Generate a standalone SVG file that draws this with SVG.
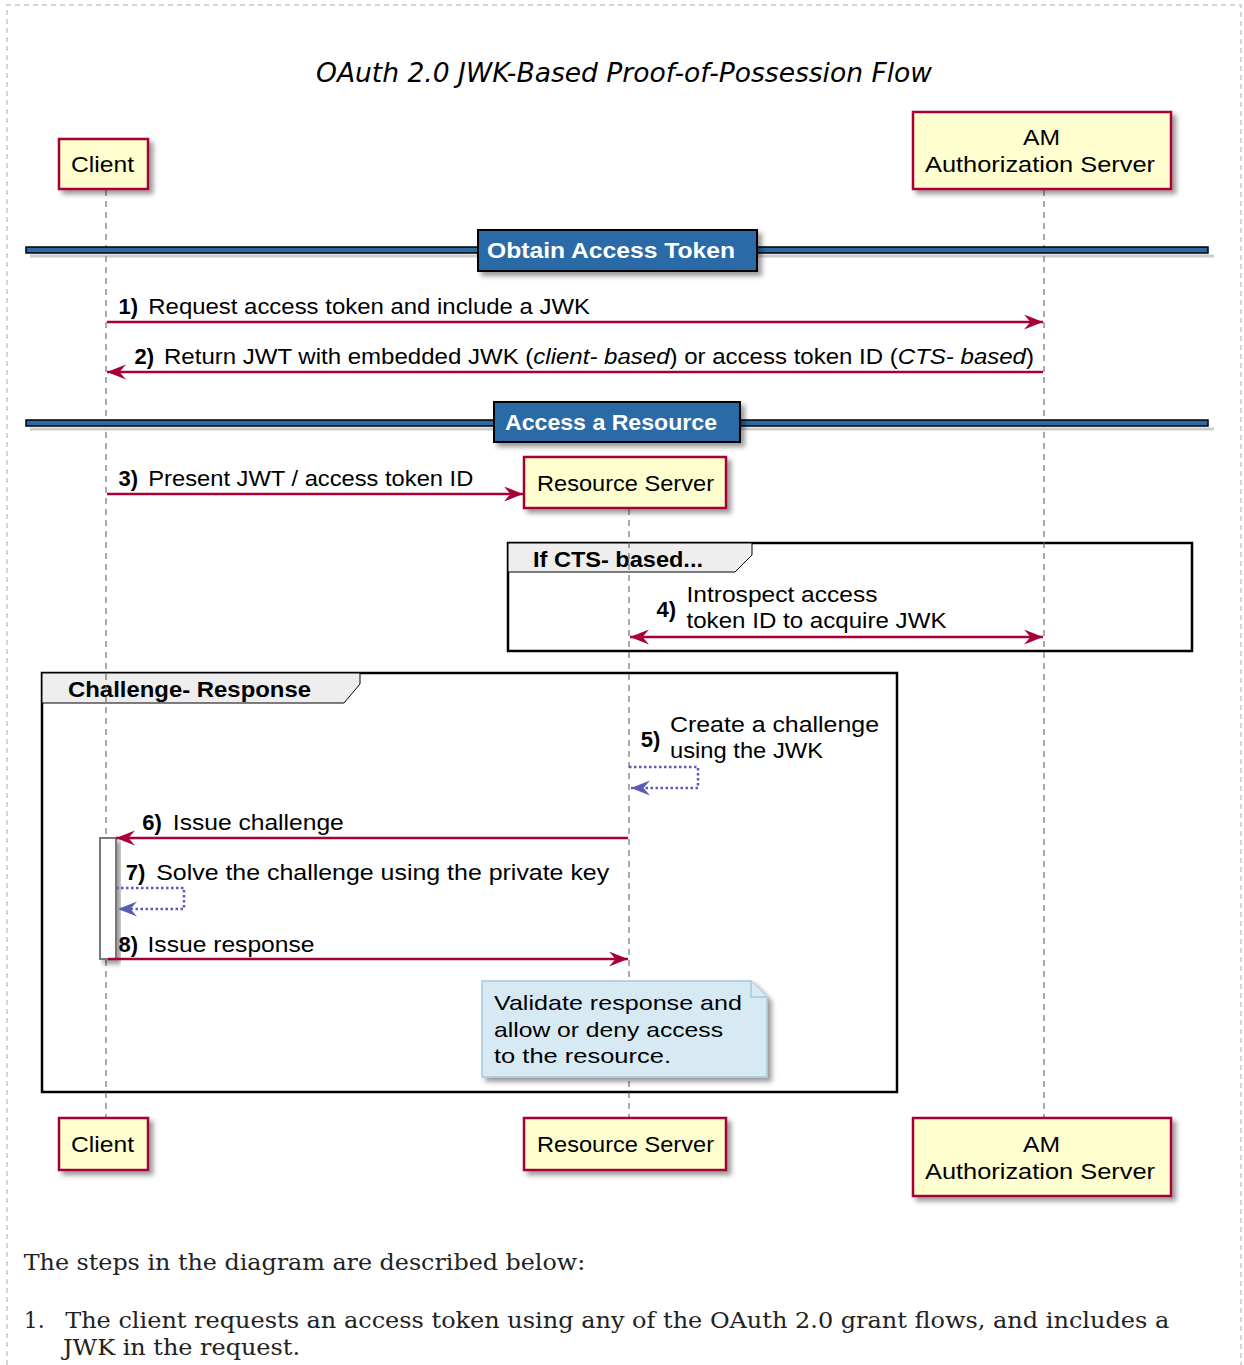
<svg xmlns="http://www.w3.org/2000/svg" width="1244" height="1365" viewBox="0 0 1244 1365">
<style>
.bg{fill:#ffffff}
.border{fill:none;stroke:#c8c8c8;stroke-width:1.5;stroke-dasharray:5,4}
.part{fill:#FEFECE;stroke:#A80036;stroke-width:2.5}
.ptxt{font-family:"Liberation Sans",Arial,sans-serif;font-size:22px;fill:#000}
.life{stroke:#555;stroke-width:1;stroke-dasharray:6,5;fill:none}
.msg{stroke:#A80036;stroke-width:2.5;fill:none}
.self{stroke:#5B5BB5;stroke-width:2.5;stroke-dasharray:2.5,2.5;fill:none}
.lbl{font-family:"Liberation Sans",Arial,sans-serif;font-size:22px;fill:#000}
.num{font-family:"Liberation Sans",Arial,sans-serif;font-size:22px;font-weight:bold;fill:#000}
.grp{fill:none;stroke:#000;stroke-width:2.5}
.tab{fill:#EEEEEE;stroke:#000;stroke-width:1}
.gtxt{font-family:"Liberation Sans",Arial,sans-serif;font-size:22px;font-weight:bold;fill:#000}
.divbar{fill:#2B6AA6;stroke:#000;stroke-width:1.5}
.divbox{fill:#2B6AA6;stroke:#000;stroke-width:2}
.divtxt{font-family:"Liberation Sans",Arial,sans-serif;font-size:22px;font-weight:bold;fill:#fff}
.note{fill:#D7EAF4;stroke:#A5C9D8;stroke-width:1.5}
.ntxt{font-family:"Liberation Sans",Arial,sans-serif;font-size:21px;fill:#000}
.act{fill:#fff;stroke:#777;stroke-width:2}
.foot{font-family:"DejaVu Serif","Liberation Serif",serif;font-size:22px;fill:#222}
</style>
<defs>
<filter id="sh" x="-20%" y="-20%" width="150%" height="160%">
<feGaussianBlur in="SourceAlpha" stdDeviation="2.5"/>
<feOffset dx="4" dy="4" result="b"/>
<feFlood flood-color="#000" flood-opacity="0.4"/>
<feComposite in2="b" operator="in"/>
<feMerge><feMergeNode/><feMergeNode in="SourceGraphic"/></feMerge>
</filter>
<marker id="ah" markerUnits="userSpaceOnUse" markerWidth="22" markerHeight="18" viewBox="0 0 22 18" refX="19" refY="7.5" orient="auto-start-reverse">
<path d="M0,0 L19,7.5 L0,15 L6.5,7.5 Z" fill="#A80036"/>
</marker>
<marker id="ahp" markerUnits="userSpaceOnUse" markerWidth="22" markerHeight="18" viewBox="0 0 22 18" refX="19" refY="7.5" orient="auto-start-reverse">
<path d="M0,0 L19,7.5 L0,15 L6.5,7.5 Z" fill="#5B5BB5"/>
</marker>
</defs>
<rect class="bg" x="0" y="0" width="1244" height="1365"/>
<path class="border" d="M7,1365 V5 H1241 V1365"/>
<text x="316" y="82" font-family="DejaVu Sans,sans-serif" font-style="italic" font-size="26" textLength="616" lengthAdjust="spacingAndGlyphs">OAuth 2.0 JWK-Based Proof-of-Possession Flow</text>

<g id="groups">
<g id="group-cts">
<rect class="grp" x="508" y="543" width="684" height="108"/>
<path class="tab" d="M508,543 H752 V555 L735,572 H508 Z"/>
<text class="gtxt" x="533" y="567" textLength="170" lengthAdjust="spacingAndGlyphs">If CTS- based...</text>
</g>
<g id="group-challenge">
<rect class="grp" x="42" y="673" width="855" height="419"/>
<path class="tab" d="M42,673 H360 V684 L344,703 H42 Z"/>
<text class="gtxt" x="68" y="697" textLength="243" lengthAdjust="spacingAndGlyphs">Challenge- Response</text>
</g>
</g>

<g id="lifelines">
<line class="life" x1="106" y1="190" x2="106" y2="1118"/>
<line class="life" x1="629" y1="509" x2="629" y2="1118"/>
<line class="life" x1="1044" y1="190" x2="1044" y2="1118"/>
</g>

<g id="divider-obtain">
<path d="M30,256 H1214" stroke="#999" stroke-width="3" opacity="0.5" fill="none"/>
<rect class="divbar" x="26" y="247" width="1182" height="6"/>
<rect class="divbox" x="478" y="230" width="279" height="41" filter="url(#sh)"/>
<text class="divtxt" x="487" y="258" textLength="248" lengthAdjust="spacingAndGlyphs">Obtain Access Token</text>
</g>
<g id="divider-access">
<path d="M30,429 H1214" stroke="#999" stroke-width="3" opacity="0.5" fill="none"/>
<rect class="divbar" x="26" y="420" width="1182" height="6"/>
<rect class="divbox" x="494" y="402" width="246" height="40" filter="url(#sh)"/>
<text class="divtxt" x="505" y="430" textLength="212" lengthAdjust="spacingAndGlyphs">Access a Resource</text>
</g>

<g id="activation">
<rect class="act" x="100" y="838" width="16" height="121" filter="url(#sh)"/>
</g>

<g id="connectors">
<line class="msg" x1="107" y1="322" x2="1043" y2="322" marker-end="url(#ah)"/>
<text class="num" x="118.6" y="314">1)</text>
<text class="lbl" x="148.3" y="314" textLength="441.7" lengthAdjust="spacingAndGlyphs">Request access token and include a JWK</text>

<line class="msg" x1="1043" y1="372" x2="107" y2="372" marker-end="url(#ah)"/>
<text class="num" x="134.4" y="364">2)</text>
<text class="lbl" x="164" y="364" textLength="870" lengthAdjust="spacingAndGlyphs">Return JWT with embedded JWK (<tspan font-style="italic">client- based</tspan>) or access token ID (<tspan font-style="italic">CTS- based</tspan>)</text>

<line class="msg" x1="107" y1="494" x2="523" y2="494" marker-end="url(#ah)"/>
<text class="num" x="118.6" y="486">3)</text>
<text class="lbl" x="148.3" y="486" textLength="325" lengthAdjust="spacingAndGlyphs">Present JWT / access token ID</text>

<line class="msg" x1="630" y1="637" x2="1043" y2="637" marker-start="url(#ah)" marker-end="url(#ah)"/>
<text class="num" x="656.6" y="617">4)</text>
<text class="lbl" x="686.5" y="602" textLength="191" lengthAdjust="spacingAndGlyphs">Introspect access</text>
<text class="lbl" x="686.5" y="628" textLength="260" lengthAdjust="spacingAndGlyphs">token ID to acquire JWK</text>

<path class="self" d="M629,767 H698 V788 H631" marker-end="url(#ahp)"/>
<text class="num" x="640.7" y="747">5)</text>
<text class="lbl" x="670" y="732" textLength="209" lengthAdjust="spacingAndGlyphs">Create a challenge</text>
<text class="lbl" x="670" y="758" textLength="153" lengthAdjust="spacingAndGlyphs">using the JWK</text>

<line class="msg" x1="628" y1="838" x2="116" y2="838" marker-end="url(#ah)"/>
<text class="num" x="142.3" y="830">6)</text>
<text class="lbl" x="172.8" y="830" textLength="171" lengthAdjust="spacingAndGlyphs">Issue challenge</text>

<path class="self" d="M116,888 H184 V909 H118" marker-end="url(#ahp)"/>
<text class="num" x="125.7" y="880">7)</text>
<text class="lbl" x="156.2" y="880" textLength="453" lengthAdjust="spacingAndGlyphs">Solve the challenge using the private key</text>

<line class="msg" x1="108" y1="959" x2="628" y2="959" marker-end="url(#ah)"/>
<text class="num" x="118.6" y="952">8)</text>
<text class="lbl" x="147.5" y="952" textLength="167" lengthAdjust="spacingAndGlyphs">Issue response</text>
</g>

<g id="note">
<path class="note" d="M482,981 H751 L767,997 V1077 H482 Z" filter="url(#sh)"/>
<path class="note" d="M751,981 V997 H767"/>
<text class="ntxt" x="494" y="1010" textLength="248" lengthAdjust="spacingAndGlyphs">Validate response and</text>
<text class="ntxt" x="494" y="1037" textLength="229" lengthAdjust="spacingAndGlyphs">allow or deny access</text>
<text class="ntxt" x="494" y="1063" textLength="177" lengthAdjust="spacingAndGlyphs">to the resource.</text>
</g>

<g id="client-top">
<rect class="part" x="59" y="139" width="89" height="50" filter="url(#sh)"/>
<text class="ptxt" x="71" y="172" textLength="63" lengthAdjust="spacingAndGlyphs">Client</text>
</g>
<g id="am-top">
<rect class="part" x="913" y="112" width="258" height="77" filter="url(#sh)"/>
<text class="ptxt" x="1023" y="145" textLength="37" lengthAdjust="spacingAndGlyphs">AM</text>
<text class="ptxt" x="925" y="172" textLength="230" lengthAdjust="spacingAndGlyphs">Authorization Server</text>
</g>
<g id="rs-top">
<rect class="part" x="524" y="457" width="202" height="51" filter="url(#sh)"/>
<text class="ptxt" x="537" y="491" textLength="177" lengthAdjust="spacingAndGlyphs">Resource Server</text>
</g>
<g id="client-bottom">
<rect class="part" x="59" y="1118" width="89" height="52" filter="url(#sh)"/>
<text class="ptxt" x="71" y="1152" textLength="63" lengthAdjust="spacingAndGlyphs">Client</text>
</g>
<g id="rs-bottom">
<rect class="part" x="524" y="1118" width="202" height="52" filter="url(#sh)"/>
<text class="ptxt" x="537" y="1152" textLength="177" lengthAdjust="spacingAndGlyphs">Resource Server</text>
</g>
<g id="am-bottom">
<rect class="part" x="913" y="1118" width="258" height="78" filter="url(#sh)"/>
<text class="ptxt" x="1023" y="1152" textLength="37" lengthAdjust="spacingAndGlyphs">AM</text>
<text class="ptxt" x="925" y="1179" textLength="230" lengthAdjust="spacingAndGlyphs">Authorization Server</text>
</g>

<g id="footer">
<text class="foot" x="23.7" y="1270" textLength="561.5" lengthAdjust="spacingAndGlyphs">The steps in the diagram are described below:</text>
<text class="foot" x="23.7" y="1328">1.</text>
<text class="foot" x="65.2" y="1328" textLength="1104" lengthAdjust="spacingAndGlyphs">The client requests an access token using any of the OAuth 2.0 grant flows, and includes a</text>
<text class="foot" x="63" y="1355" textLength="237" lengthAdjust="spacingAndGlyphs">JWK in the request.</text>
</g>
</svg>
